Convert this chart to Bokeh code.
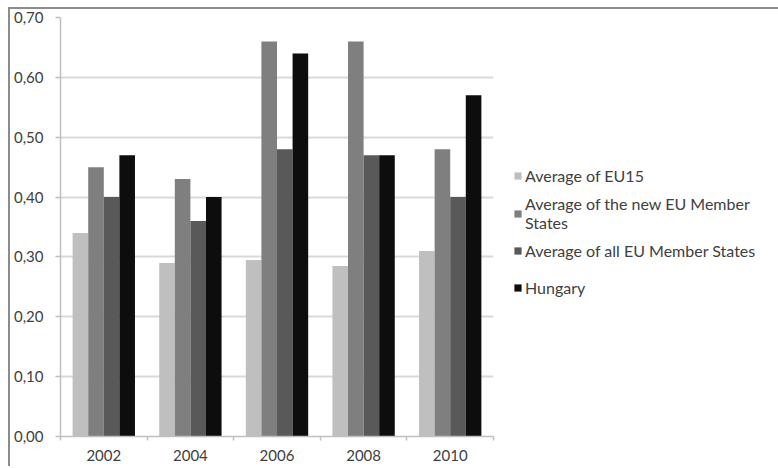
from bokeh.plotting import figure
from bokeh.models import (ColumnDataSource, FixedTicker, CustomJSTickFormatter,
                          Legend, LegendItem, Range1d, Spacer)
from bokeh.layouts import column, row
from bokeh.embed import file_html
from bokeh.resources import INLINE

# Survey years and the four compared series
years = ["2002", "2004", "2006", "2008", "2010"]
eu15 = [0.34, 0.29, 0.295, 0.285, 0.31]
new_members = [0.45, 0.43, 0.66, 0.66, 0.48]
all_members = [0.40, 0.36, 0.48, 0.47, 0.40]
hungary = [0.47, 0.40, 0.64, 0.47, 0.57]

series_names = [
    "Average of EU15",
    "Average of the new EU Member\nStates",
    "Average of all EU Member States",
    "Hungary",
]
series_values = [eu15, new_members, all_members, hungary]
series_colors = ["#bfbfbf", "#7f7f7f", "#595959", "#0d0d0d"]

FONT = "Lato"
TEXT_COLOR = "#404040"
AXIS_COLOR = "#bfbfbf"

p = figure(
    width=768, height=459,
    frame_width=431, frame_height=417,
    min_border_left=48, min_border_right=10,
    min_border_top=8, min_border_bottom=32,
    x_range=Range1d(-0.5, len(years) - 0.5),
    y_range=Range1d(0, 0.70),
    output_backend="svg", toolbar_location=None,
)
p.styles = {"border-left": "2px solid #8c8c8c", "border-top": "2px solid #8c8c8c"}
p.outline_line_color = None

# Bars: four adjacent bars per year, centred on the year index
bar_w = 0.18
idx = list(range(len(years)))
renderers = []
for k, (vals, color) in enumerate(zip(series_values, series_colors)):
    offset = (k - 1.5) * bar_w
    src = ColumnDataSource(dict(x=[i + offset for i in idx], top=vals))
    r = p.vbar(x="x", top="top", bottom=0, width=bar_w, source=src,
               fill_color=color, line_color=None)
    renderers.append(r)

# Y axis
p.yaxis.ticker = FixedTicker(ticks=[i / 10 for i in range(8)])
p.yaxis.formatter = CustomJSTickFormatter(
    code="return tick.toFixed(2).replace('.', ',');")
p.yaxis.axis_line_color = AXIS_COLOR
p.yaxis.axis_line_width = 1.5
p.yaxis.major_tick_line_color = AXIS_COLOR
p.yaxis.major_tick_line_width = 1.5
p.yaxis.major_tick_out = 5
p.yaxis.major_tick_in = 0
p.yaxis.minor_tick_line_color = None
p.yaxis.major_label_text_font = FONT
p.yaxis.major_label_text_font_size = "15px"
p.yaxis.major_label_text_color = TEXT_COLOR
p.yaxis.major_label_standoff = 12

# X axis: labels at year centres, tick marks between years
p.xaxis.ticker = FixedTicker(ticks=idx,
                             minor_ticks=[i - 0.5 for i in range(len(years) + 1)])
p.xaxis.major_label_overrides = {i: y for i, y in zip(idx, years)}
p.xaxis.axis_line_color = AXIS_COLOR
p.xaxis.axis_line_width = 1.5
p.xaxis.major_tick_line_color = None
p.xaxis.minor_tick_line_color = AXIS_COLOR
p.xaxis.minor_tick_line_width = 1.5
p.xaxis.minor_tick_out = 4
p.xaxis.minor_tick_in = 0
p.xaxis.major_label_text_font = FONT
p.xaxis.major_label_text_font_size = "15px"
p.xaxis.major_label_text_color = TEXT_COLOR
p.xaxis.major_label_standoff = 7

# Grid
p.xgrid.grid_line_color = None
p.ygrid.grid_line_color = "#d9d9d9"
p.ygrid.grid_line_width = 2

# Legend in the right-hand panel
legend = Legend(
    items=[LegendItem(label=n, renderers=[r]) for n, r in zip(series_names, renderers)],
    location=(20, 130),
    padding=0, margin=0, spacing=0,
    border_line_color=None, background_fill_alpha=0,
    glyph_width=9, glyph_height=9, label_standoff=3,
    label_height=37,
    label_text_font=FONT, label_text_font_size="16px",
    label_text_line_height=1.15,
    label_text_color=TEXT_COLOR,
)
p.add_layout(legend, "right")

layout = column(Spacer(height=7), row(Spacer(width=8), p))
open("out.html", "w").write(file_html(layout, INLINE))
